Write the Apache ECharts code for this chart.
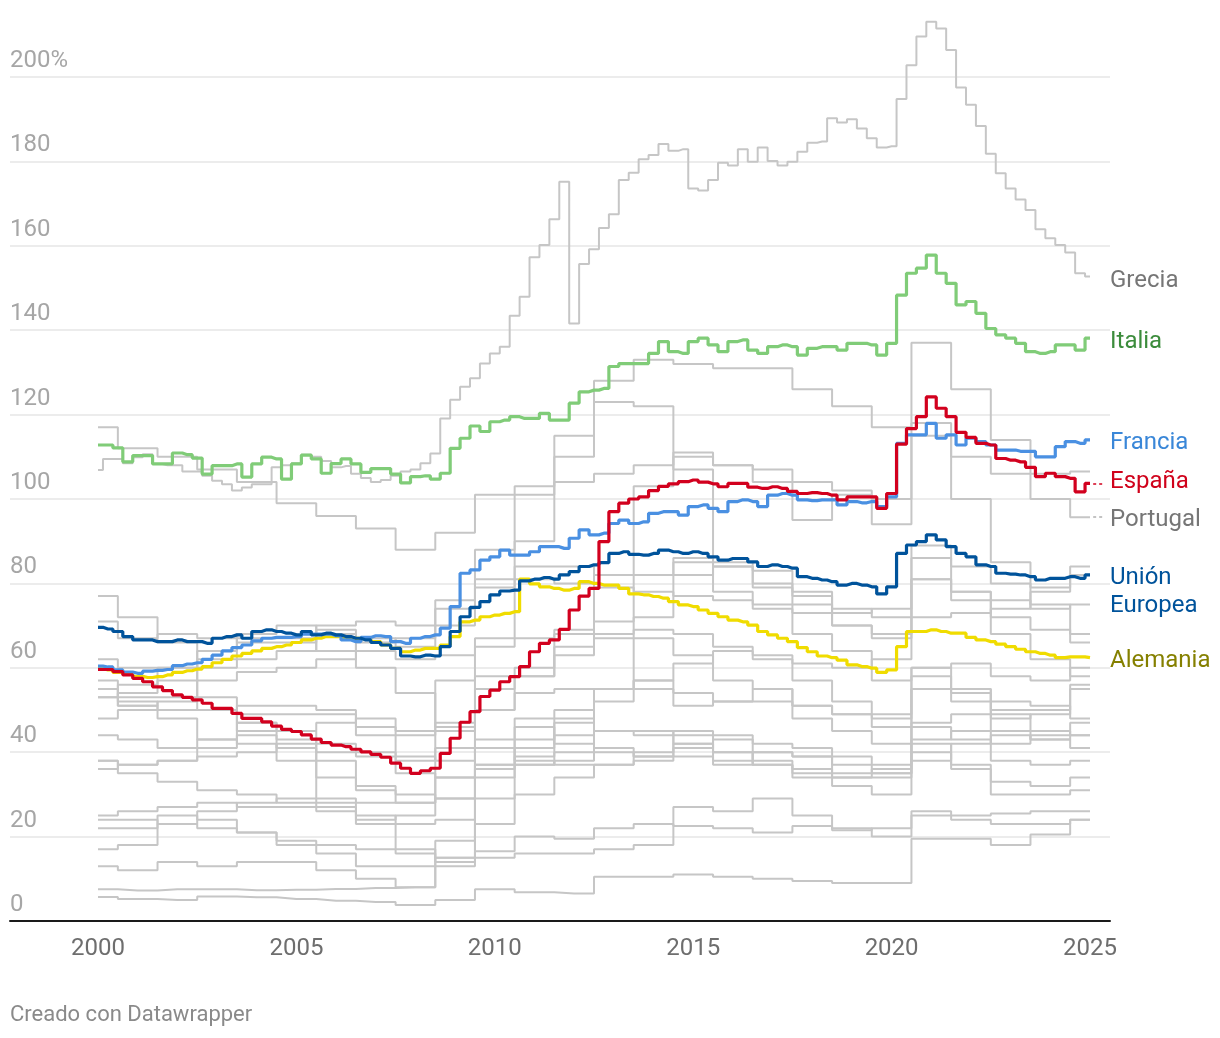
<!DOCTYPE html>
<html>
<head>
<meta charset="utf-8">
<script src="https://cdn.jsdelivr.net/npm/echarts@6/dist/echarts.min.js"></script>
<style>
html,body{margin:0;padding:0;background:#fff;}
#chart{width:1220px;height:1038px;}
</style>
</head>
<body>
<div id="chart"></div>
<script>
// x positions: quarterly points 2000.00 ... 2025.00, and yearly points 2000 ... 2025
const quarters = Array.from({length: 101}, (_, i) => 2000 + i * 0.25);
const years = Array.from({length: 26}, (_, i) => 2000 + i);
const xTickLabels = [2000, 2005, 2010, 2015, 2020, 2025];

// Highlighted series (quarterly, % of GDP)
const italia = [
112.8,112.8,112.1,108.8,110.3,110.3,108.3,108.3,110.9,110.5,
109.7,105.9,107.9,107.9,108.3,105.2,108.3,109.9,109.5,104.7,
108.3,110.4,109.5,106.1,108.4,109.5,108.3,106.3,107.2,107.2,
105.9,103.8,105.3,105.5,104.7,106.1,112.0,114.4,117.3,116.0,
118.3,118.7,119.5,119.1,119.1,120.3,118.7,118.7,122.7,125.4,
125.8,126.2,131.4,132.1,132.1,132.1,134.5,137.3,134.9,134.5,
137.3,138.1,136.5,134.9,137.3,137.7,135.3,134.5,136.1,136.5,
136.1,134.1,135.7,136.1,136.1,135.3,136.9,136.9,136.5,134.1,
136.9,148.3,153.5,154.7,157.8,153.5,151.1,146.0,146.8,144.0,
140.4,138.9,138.1,136.9,134.9,134.5,134.9,136.5,136.5,135.3,
138.1];
const francia = [
60.4,60.2,59.5,59.0,58.7,59.2,59.4,59.6,60.5,60.9,
61.2,62.0,63.0,64.0,64.8,65.4,66.4,67.0,67.2,67.2,
67.4,68.0,68.0,68.0,67.6,66.6,66.2,67.2,67.6,67.4,
66.2,65.8,67.0,67.4,67.8,69.4,74.5,82.4,83.2,85.5,
86.3,87.9,86.7,86.7,87.5,88.7,88.7,88.3,90.7,92.7,
91.5,91.9,94.2,95.0,94.2,94.6,96.6,97.0,97.0,96.2,
98.2,98.6,97.8,97.0,99.4,99.8,99.4,98.2,100.9,101.3,
100.9,99.8,99.6,99.8,99.8,98.6,99.4,99.1,99.4,98.2,
100.5,113.2,115.2,115.2,117.9,114.4,115.2,112.8,114.4,113.6,
112.8,111.6,111.6,111.3,111.3,110.0,110.0,112.4,113.6,113.2,
114.0];
const espana = [
59.6,59.6,59.1,58.3,57.5,56.7,55.5,54.6,53.6,53.0,
52.4,51.6,50.4,50.4,49.2,48.0,48.0,47.2,46.2,45.4,
44.9,44.1,43.1,42.3,41.7,41.3,40.7,40.1,39.5,38.8,
37.4,36.2,35.0,35.6,36.2,39.7,43.3,47.1,49.6,53.2,
54.7,56.7,57.9,60.3,63.8,65.8,66.6,69.1,73.7,77.0,
78.8,89.9,97.0,99.0,100.0,100.5,102.0,103.0,103.6,104.1,
104.5,104.0,103.6,102.9,103.7,103.7,102.8,102.5,102.9,102.5,
101.8,101.3,101.5,101.3,100.9,99.8,100.5,100.5,100.5,97.8,
101.3,113.0,116.7,119.5,124.2,121.5,119.5,115.8,114.6,113.2,
112.8,109.6,109.2,108.8,107.5,105.3,106.1,105.3,104.9,101.7,
103.7];
const unionEuropea = [
69.6,69.2,68.6,67.4,66.6,66.6,66.2,66.2,66.6,66.2,
66.2,65.8,67.0,67.4,67.8,67.0,68.6,69.0,68.6,68.2,
67.8,68.6,67.8,68.2,67.8,67.4,67.0,66.6,66.0,65.4,
64.6,62.8,62.6,63.0,62.8,65.0,68.6,72.1,74.3,75.7,
77.3,78.2,78.4,80.6,81.0,81.4,81.0,82.0,82.8,84.0,
84.4,84.9,87.1,87.5,86.9,86.7,87.1,87.9,87.5,87.1,
87.5,87.1,86.3,85.5,85.9,85.9,85.1,84.0,84.4,84.0,
83.6,81.6,81.2,80.8,80.4,79.6,80.0,79.6,79.2,77.5,
79.2,87.1,89.1,89.9,91.5,90.3,88.7,87.1,86.3,84.4,
84.0,82.4,82.2,82.0,81.6,80.8,81.2,81.2,81.6,81.2,
82.0];
const alemania = [
59.9,59.5,58.9,58.5,58.0,57.7,57.9,58.3,58.9,59.3,
59.7,60.3,61.2,62.0,62.8,63.4,64.0,64.6,65.0,65.4,
66.0,66.6,67.0,67.4,67.4,67.0,67.0,66.8,66.2,65.4,
64.6,63.8,64.2,64.6,64.6,65.4,67.4,70.9,71.3,72.1,
72.5,72.9,73.3,81.0,79.9,79.2,78.8,78.4,78.8,80.4,
80.0,79.6,79.6,78.8,77.5,77.3,76.9,76.5,75.7,74.9,
74.5,73.7,72.9,72.1,71.3,70.9,70.1,68.6,67.8,67.0,
66.2,64.8,63.8,62.8,62.4,61.8,60.7,60.3,59.9,58.9,
59.5,65.0,68.6,68.6,69.0,68.6,68.2,68.2,67.2,66.6,
66.2,65.6,65.0,64.4,63.8,63.4,63.0,62.4,62.6,62.6,
62.4];
const grecia = [
106.9,109.5,109.5,108.5,109.9,110.6,108.3,108.0,108.0,106.5,
106.5,105.5,104.3,103.5,102.0,102.7,103.5,103.5,107.5,108.0,
108.5,110.5,110.0,109.0,107.5,107.8,106.0,105.0,104.0,104.5,
105.5,106.5,107.0,108.5,110.8,119.1,123.5,126.6,128.6,132.1,
134.5,136.1,143.4,147.9,157.3,160.2,166.3,175.2,141.6,155.7,
159.2,164.2,167.5,175.6,177.3,180.5,181.5,184.1,182.5,182.9,
173.6,173.1,175.6,179.7,179.0,182.9,179.9,183.3,180.1,179.0,
179.9,182.3,184.4,184.7,190.2,189.2,190.0,187.8,185.5,183.3,
183.6,194.8,202.8,209.6,213.1,211.5,206.4,197.5,193.4,188.4,
181.8,177.2,173.6,171.0,168.5,163.9,161.8,160.2,158.4,153.5,
152.7];

// Other EU countries (yearly readings, % of GDP), 2000 ... 2025
const portugal   = [53,54,57,60,62,64,70,71,70,76,88,103,115,128,133,132,131,131,126,122,117,137,126,114,100,95.7];
const belgica    = [117,112,110,107,104,99,96,93,88,92,101,101,104,106,108,111,108,107,104,102,100,115,110,106,106,106.5];
const irlanda    = [38,35,33,31,30,28,27,24,25,45,65,90,110,123,122,107,78,74,68,64,57,60,55,45,43,41];
const chipre     = [55,56,60,64,67,67,64,60,54,46,55,58,68,82,103,110,108,104,95,101,94,118,100,85,75,66];
const austria    = [71,67,68,67,66,66,69,67,65,70,81,84,84,82,82,86,85,83,78,74,72,86,84,80,79,82];
const finlandia  = [44,43,41,41,44,43,40,39,35,34,43,48,50,55,57,61,64,63,61,60,62,72,73,74,78,84];
const eslovenia  = [25,26,27,28,27,27,26,25,23,24,36,39,48,55,72,82,84,79,75,70,67,81,76,72,69,68];
const croacia    = [36,37,38,39,40,42,42,40,38,41,50,58,65,71,82,85,84,80,77,73,74,89,78,68,62,58];
const hungria    = [57,53,53,57,59,60,62,66,67,74,79,81,80,79,78,77,76,75,73,70,68,81,78,76,74,75];
const malta      = [62,60,60,62,68,70,68,64,62,63,67,67,69,67,67,63,57,55,48,45,42,55,55,52,51,48];
const paisesBajos= [55,51,50,50,51,51,50,46,44,57,58,60,63,68,69,68,65,62,57,52,49,55,52,49,45,44];
const eslovaquia = [48,50,48,43,42,41,34,31,30,29,37,41,44,52,55,54,52,52,51,49,48,60,61,58,57,60];
const polonia    = [38,37,38,43,47,45,47,48,45,47,50,54,55,55,57,51,52,55,51,49,46,58,54,50,50,56];
const rumania    = [22,22,25,24,21,18,16,13,13,13,23,30,34,37,38,39,38,37,35,35,35,47,49,48,49,55];
const chequia    = [17,18,23,26,28,29,28,28,28,29,34,37,40,45,45,42,40,37,34,32,30,38,42,44,43,44];
const dinamarca  = [55,52,50,50,47,45,38,32,28,34,41,43,47,45,44,44,40,38,36,34,34,42,37,30,30,31];
const suecia     = [53,51,52,50,49,49,49,44,39,38,41,38,37,37,40,45,44,42,41,39,35,40,36,33,32,34];
const letonia    = [13,12,14,13,14,14,12,10,8,19,37,46,42,41,39,42,37,40,39,37,37,43,45,42,44,47];
const lituania   = [24,24,23,22,21,19,18,17,16,15,29,37,38,40,39,41,43,40,39,34,36,46,43,38,37,38];
const luxemburgo = [7.5,7.2,7.5,7.5,7.3,7.4,7.6,7.8,8.0,15.0,16.5,20,19.5,22,23,22.5,22,21,22.5,21.5,22,26,25,25.5,26,26];
const estonia    = [5.7,5.2,5.0,5.8,5.6,5.2,4.8,4.5,3.8,5.0,7.5,6.8,6.5,10.5,10.5,11.0,10.5,10.0,9.5,9.0,9.0,19.5,19.5,18.0,20.5,24];
const bulgaria   = [77,72,66,53,45,38,29,23,17,14,15,16,16,17,18,27,26,29,25,22,20,25,24,23,23,24];

const otherCountries = [belgica, irlanda, chipre, austria, finlandia, eslovenia, croacia, hungria, malta,
  paisesBajos, eslovaquia, polonia, rumania, chequia, dinamarca, suecia, letonia, lituania, luxemburgo, estonia, bulgaria];

const GREY = '#c6c6c6';
const FONT = 'Roboto';
const LABEL_SIZE = 24;

function pairs(xs, vs) { return vs.map((v, i) => [xs[i], v]); }

function greyLine(xs, vs, extra) {
  return Object.assign({
    type: 'line', step: 'middle', showSymbol: false, silent: true, z: 2,
    lineStyle: {color: GREY, width: 2}, itemStyle: {color: GREY},
    data: pairs(xs, vs)
  }, extra || {});
}

function connector(vs, color) {
  const last = vs[vs.length - 1];
  return {
    silent: true, symbol: 'none', label: {show: false},
    lineStyle: {type: [3, 3], color: color, width: 1.6},
    data: [[{coord: [2025.08, last]}, {coord: [2025.32, last]}]]
  };
}

function endLabel(text, color, offset) {
  return {show: true, formatter: text, color: color, fontSize: LABEL_SIZE,
    fontFamily: FONT, distance: 20, offset: offset, lineHeight: 28};
}

function hiLine(name, vs, color, label, z, extra) {
  return Object.assign({
    name: name, type: 'line', step: 'middle', showSymbol: false, silent: true, z: z,
    lineStyle: {color: color, width: 3.2}, itemStyle: {color: color},
    data: pairs(quarters, vs),
    endLabel: label
  }, extra || {});
}

const series = [];
otherCountries.forEach(vs => series.push(greyLine(years, vs)));
series.push(greyLine(years, portugal, {
  name: 'Portugal', z: 3,
  endLabel: endLabel('Portugal', '#767676', [0, 3]),
  markLine: connector(portugal, '#b0b0b0')
}));
series.push(greyLine(quarters, grecia, {
  name: 'Grecia', z: 3,
  endLabel: endLabel('Grecia', '#767676', [0, 4])
}));
series.push(hiLine('Alemania', alemania, '#f0dc00', endLabel('Alemania', '#858000', [0, 3]), 5));
series.push(hiLine('Italia', italia, '#80cc78', endLabel('Italia', '#3c8c3c', [0, 4]), 5));
series.push(hiLine('Francia', francia, '#4a90e2', endLabel('Francia', '#3a87d8', [0, 3]), 6));
series.push(hiLine('Unión Europea', unionEuropea, '#00539b', endLabel('Unión\nEuropea', '#00539b', [0, 17]), 7));
series.push(hiLine('España', espana, '#d2001e', endLabel('España', '#d0021b', [0, -1]), 8,
  {markLine: connector(espana, '#d2001e')}));

const chart = echarts.init(document.getElementById('chart'), null, {renderer: 'canvas'});
const yMax = 215;
chart.setOption({
  animation: false,
  backgroundColor: '#ffffff',
  textStyle: {fontFamily: FONT},
  grid: {left: 10, right: 110, top: 921 - yMax * 4.22, bottom: 117},
  xAxis: {
    type: 'value', min: 1997.782, max: 2025.504,
    axisLine: {show: true, onZero: false, lineStyle: {color: '#1a1a1a', width: 2}},
    axisTick: {show: false},
    splitLine: {show: false},
    axisLabel: {customValues: xTickLabels, formatter: v => String(Math.round(v)),
      color: '#6e6e6e', fontSize: 24, fontFamily: FONT, margin: 16}
  },
  yAxis: {
    type: 'value', min: 0, max: yMax, interval: 20,
    axisLine: {show: false}, axisTick: {show: false},
    splitLine: {show: true, showMinLine: false, showMaxLine: false, lineStyle: {color: '#e6e6e6', width: 1.5}},
    axisLabel: {inside: true, margin: 0, align: 'left', verticalAlign: 'bottom',
      padding: [0, 0, 4, 0], color: '#a6a6a6', fontSize: 24, fontFamily: FONT,
      showMaxLabel: false,
      formatter: v => v > 200 ? '' : (v === 200 ? '200%' : String(v))}
  },
  graphic: [{type: 'text', left: 10, top: 1004,
    style: {text: 'Creado con Datawrapper', fill: '#8a8a8a', fontSize: 22, fontFamily: FONT}}],
  series: series
});
</script>
</body>
</html>
